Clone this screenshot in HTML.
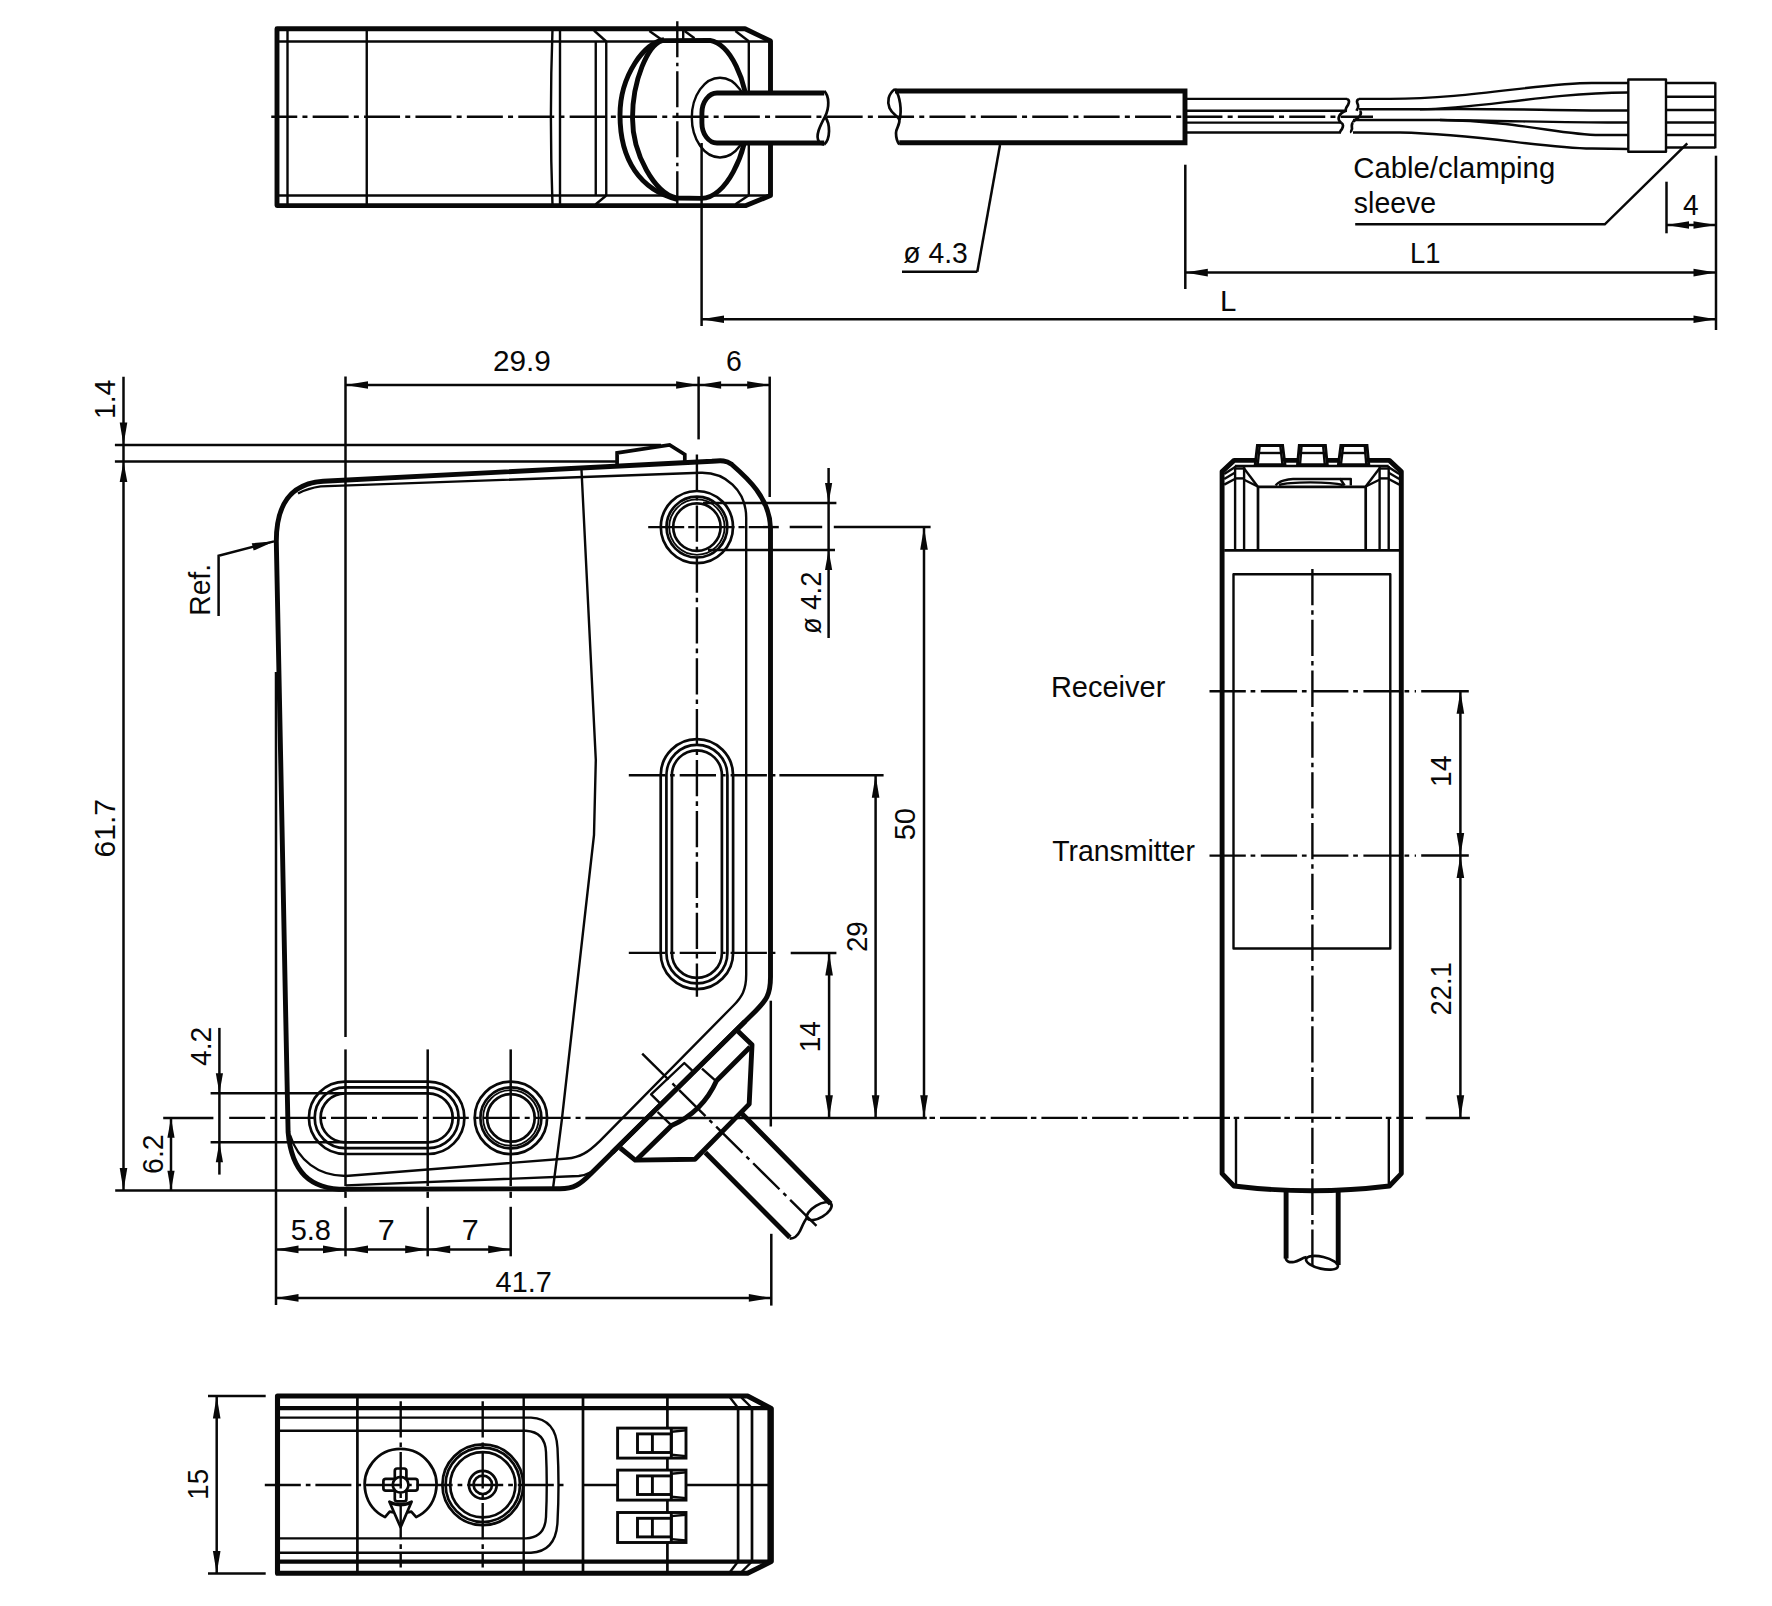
<!DOCTYPE html>
<html><head><meta charset="utf-8"><title>Dimensional drawing</title>
<style>
html,body{margin:0;padding:0;background:#fff;}
body{width:1772px;height:1606px;overflow:hidden;}
svg{display:block;}
svg text{font-family:"Liberation Sans",sans-serif;fill:#080808;}
.k{fill:none;stroke:#080808;stroke-width:4.9;stroke-linejoin:round;stroke-linecap:butt;}
.kc{fill:none;stroke:#080808;stroke-width:4.9;stroke-linejoin:miter;}
.k3{fill:none;stroke:#080808;stroke-width:3.7;stroke-linejoin:miter;}
.k2{fill:none;stroke:#080808;stroke-width:4.3;}
.kb{fill:none;stroke:#080808;stroke-width:5.1;stroke-linejoin:round;}
.m2{fill:none;stroke:#080808;stroke-width:2.9;stroke-linejoin:miter;}
.m{fill:none;stroke:#080808;stroke-width:2.7;stroke-linejoin:round;}
.t{fill:none;stroke:#080808;stroke-width:2.4;stroke-linejoin:round;}
.t1{fill:none;stroke:#080808;stroke-width:1.8;}
.d{fill:none;stroke:#080808;stroke-width:2.5;}
.c{fill:none;stroke:#080808;stroke-width:2.4;stroke-dasharray:36 5 5 5;}
.a{fill:#080808;stroke:none;}
.w{fill:#fff;stroke:none;}
</style></head><body>
<svg width="1772" height="1606" viewBox="0 0 1772 1606">
<rect class="w" x="0" y="0" width="1772" height="1606"/>
<g id="topview">
<path class="k" d="M277 28.8L745 28.8L770.5 41L770.5 195.5L746 205.6L277 205.6Z" />
<path class="t" d="M277 41.5L770 41.5" />
<path class="t" d="M277 195.5L770 195.5" />
<path class="t" d="M287.5 29L287.5 205.6" />
<path class="t" d="M366.75 29L366.75 205.6" />
<path class="t" d="M552.5 29Q549.3 117 552.5 205.6" />
<path class="t" d="M560 29L560 205.6" />
<path class="t" d="M595.75 41.5L595.75 195.5" />
<path class="t" d="M606.25 41.5L606.25 195.5" />
<path class="t" d="M594 30.5L606.25 41.5" />
<path class="t" d="M606.25 195.5L595.5 204.5" />
<path class="t" d="M748.8 41.3L748.8 195.3" />
<path class="t" d="M735.4 31L748.8 41.3" />
<path class="t" d="M748.8 195.3L735.4 204.2" />
<path class="t" d="M649.4 31L660.7 39" />
<path class="t" d="M684.6 31L694.5 38.3" />
<path class="t" d="M683.2 31L683.2 39" />
<path class="k" d="M664 39.6C645 42 620 75 620 115C620 160 640 190 678 199.6" />
<path class="k" style="fill:#fff" d="M662 40.6L710 40.4C730 44 747.4 80 747.4 116C747.4 155 725 198.4 701.6 198.4L676.2 198C655 193 632.5 155 632.5 118C632.5 80 648 45 662 40.6Z"/>
<clipPath id="cpE"><path d="M662 40.6L710 40.4C730 44 747.4 80 747.4 116C747.4 155 725 198.4 701.6 198.4L676.2 198C655 193 632.5 155 632.5 118C632.5 80 648 45 662 40.6Z"/></clipPath>
<ellipse class="t" cx="720" cy="117.6" rx="28.2" ry="39.9" clip-path="url(#cpE)"/>
<path class="kc" style="fill:#fff" d="M824.2 93L717 93A15.1 20 0 0 0 701.9 113L701.9 123A15.1 20 0 0 0 717 143L824.2 143"/>
<path class="m" d="M824.2 91C829.5 96 829.5 108 825 116.6C820 126 815 136 819 141.5C821 144 823 144.5 824.2 144.5" />
<path class="m" d="M825 116.6C830.5 124 830.5 139 824.2 144.5" />
<path class="kc" d="M895 91L1185 91L1185 142.8L899.3 142.8"/>
<path class="m" d="M895 89C888 94 887 102 889.5 108C892 114 898 116 899.3 119.7C900.5 124 896 128 896 133C896 138 897.5 142 899.3 144.5" />
<path class="m" d="M895 89C900 96 902 110 899.6 119.7" />
<path class="t" d="M1185 98.9L1347 98.9" />
<path class="t" d="M1185 110.8L1347 110.8" />
<path class="t" d="M1185 122.6L1341 122.6" />
<path class="t" d="M1185 132.5L1341 132.5" />
<path class="m" d="M1347 98.9C1350 100 1349 103 1348 105C1346 108 1345 109 1346 110.8" />
<path class="m" d="M1341 122.6C1344 124 1343 127 1342 129C1340 131 1340 132 1340 132.5" />
<path class="m" d="M1346 110.8C1343 112 1340 114 1339 116.5C1338 119 1339 121 1341 122.6" />
<path class="m" d="M1359 98.9C1356 100 1357 103 1358 105C1359 108 1357 109.5 1356.5 110.8" />
<path class="m" d="M1353 122.6C1351 124 1352 127 1352 129C1351 131 1351 132 1351.5 132.5" />
<path class="m" d="M1360 110.8C1362 113 1360 116 1358 118C1355 120 1353 121 1353 122.6" />
<path class="t" d="M1359 98.9L1390 98.9C1470 98.9 1540 83 1592 83L1628 83" />
<path class="t" d="M1359 109.3L1420 109.3C1480 109 1540 93.5 1628 92.5" />
<path class="t" d="M1420 109.3C1500 108 1560 111 1628 110.5" />
<path class="t" d="M1353 120L1440 120C1520 121 1580 123 1628 122.5" />
<path class="t" d="M1440 120C1520 121 1560 135 1600 135L1628 135" />
<path class="t" d="M1353 132.5L1400 132.5C1480 134 1540 148 1592 148.5L1628 149" />
<rect class="t" style="fill:#fff" x="1628.3" y="79.5" width="37.7" height="72.3"/>
<path class="t" d="M1666 83L1715.3 83" />
<path class="t" d="M1666 96.75L1715.3 96.75" />
<path class="t" d="M1666 110L1715.3 110" />
<path class="t" d="M1666 122.5L1715.3 122.5" />
<path class="t" d="M1666 135L1715.3 135" />
<path class="t" d="M1666 147.5L1715.3 147.5" />
<path class="t" d="M1715.3 82.3L1715.3 148.3" />
<path class="c" d="M271.25 116.75L1373 116.75" style="stroke-dasharray:36 5.2 5 5.2" stroke-dashoffset="10"/>
<path class="c" d="M677.3 21.3L677.3 210.4" style="stroke-dasharray:36 5.5 3.5 5"/>
<path class="d" d="M902 271.7L977.3 271.7" />
<path class="d" d="M977.3 271.7L1000 145" />
<text transform="translate(903.29 262.70) rotate(0) scale(0.963 1)" style="font-size:29.4px">ø 4.3</text>
<text transform="translate(1353.23 178.20) rotate(0) scale(0.997 1)" style="font-size:29.4px">Cable/clamping</text>
<text transform="translate(1353.85 213.20) rotate(0) scale(0.968 1)" style="font-size:29.4px">sleeve</text>
<path class="d" d="M1355.2 224.3L1604.8 224.3L1687.3 143.3" />
<path class="d" d="M1666.5 181.7L1666.5 233.3" />
<path class="d" d="M1716 155.7L1716 330" />
<path class="d" d="M1666.5 225L1716 225" />
<path class="a" d="M1666.50 225.00L1689.00 221.20L1689.00 228.80Z"/>
<path class="a" d="M1716.00 225.00L1693.50 228.80L1693.50 221.20Z"/>
<text transform="translate(1683.04 214.80) rotate(0) scale(0.956 1)" style="font-size:29.4px">4</text>
<path class="d" d="M1185.3 164.7L1185.3 289" />
<path class="d" d="M1185.3 272.6L1716 272.6" />
<path class="a" d="M1185.30 272.60L1207.80 268.80L1207.80 276.40Z"/>
<path class="a" d="M1716.00 272.60L1693.50 276.40L1693.50 268.80Z"/>
<text transform="translate(1410.00 262.90) rotate(0) scale(0.930 1)" style="font-size:29.4px">L1</text>
<path class="d" d="M701.6 143L701.6 326" />
<path class="d" d="M701.5 319.3L1716 319.3" />
<path class="a" d="M701.50 319.30L724.00 315.50L724.00 323.10Z"/>
<path class="a" d="M1716.00 319.30L1693.50 323.10L1693.50 315.50Z"/>
<text transform="translate(1219.94 310.60) rotate(0) scale(1.001 1)" style="font-size:29.4px">L</text>
</g>
<g id="front">
<path class="k" d="M276.3 541.4C276.3 505 290 483.5 323.2 481.2L712 461.3C722 460.2 726.5 460.6 731.1 463.9C745 476 770 497 770.5 528.3L770.5 977C770.5 995 766 1000.5 755.4 1011.2L590.8 1173.7C580 1184.5 574 1188.7 560 1188.7L345.6 1189.3C310 1189.3 291.5 1172 288.1 1132L285.4 1000L280.7 760Z" />
<path class="t" d="M298 493.5Q308 488.2 320.7 486.4L700.4 472.8C725 472 746.2 490 746.2 517.8L746.2 974.6C746.2 990 742 997 733 1006L600 1140.8C588 1152.5 580 1157.5 567 1158.5L345.6 1176C318 1176 298 1160 290 1135" />
<path class="t" d="M345.6 1185.4L578.8 1176C588 1175 596 1170 603 1163" />
<path class="t" d="M581.5 470L595.8 760L594 835L561.8 1120L553.2 1187" />
<path class="k3" d="M617.1 464.5L617.1 452.8L669.6 444.9L684.8 454.5L684.8 462.5" />
<circle class="m" cx="696.9" cy="527.1" r="36.1"/>
<circle class="m" cx="696.9" cy="527.1" r="30.4"/>
<circle class="t1" cx="696.9" cy="527.1" r="27.7"/>
<circle class="m" cx="696.9" cy="527.1" r="23.7"/>
<path class="m" d="M660.6999999999999 775.3A36.2 36.2 0 0 1 733.1 775.3L733.1 952.9A36.2 36.2 0 0 1 660.6999999999999 952.9Z" />
<path class="m" d="M666.4 775.3A30.5 30.5 0 0 1 727.4 775.3L727.4 952.9A30.5 30.5 0 0 1 666.4 952.9Z" />
<path class="m" d="M671.9 775.3A25 25 0 0 1 721.9 775.3L721.9 952.9A25 25 0 0 1 671.9 952.9Z" />
<path class="m" d="M345.1 1154.0A36.2 36.2 0 0 1 345.1 1081.6L428.2 1081.6A36.2 36.2 0 0 1 428.2 1154.0Z" />
<path class="m" d="M345.1 1148.2A30.4 30.4 0 0 1 345.1 1087.3999999999999L428.2 1087.3999999999999A30.4 30.4 0 0 1 428.2 1148.2Z" />
<path class="m" d="M345.1 1142.3A24.5 24.5 0 0 1 345.1 1093.3L428.2 1093.3A24.5 24.5 0 0 1 428.2 1142.3Z" />
<circle class="m" cx="510.9" cy="1117.9" r="36.2"/>
<circle class="m" cx="510.9" cy="1117.9" r="30.5"/>
<circle class="t1" cx="510.9" cy="1117.9" r="27.8"/>
<circle class="m" cx="510.9" cy="1117.9" r="23.8"/>
<path class="w" d="M740.8 1112.5L830.7 1203.7L789.9 1237.5L705.3 1152.6Z"/>
<path class="k" style="stroke-linecap:butt" d="M740.8 1112.5L830.7 1203.7M789.9 1237.5L705.3 1152.6"/>
<path class="m" d="M807.5 1217C803.8 1221.5 802 1227 800 1231C797.5 1236 793.5 1238.7 789.6 1238.6" />
<ellipse class="m" cx="819.2" cy="1211.2" rx="14" ry="6.3" transform="rotate(-31 819.2 1211.2)"/>
<path class="w" d="M738 1031.2L752 1044.8L749.2 1104.1L695 1159.2L635.2 1160.1L620.3 1148Z"/>
<path class="k" d="M738 1031.2L752 1044.8L749.2 1104.1L695 1159.2L635.2 1160.1L620.3 1148" />
<path class="k" d="M750.1 1047.1L716.5 1080.7Q702.6 1111.7 671.6 1125.5L637.1 1159.2" />
<path class="t" d="M702 1068.6L715.5 1080.7" />
<path class="t" d="M657.6 1112L670.7 1124.6" />
<path class="t" d="M660.4 1103.6L651.1 1094.3L684.3 1063L693.1 1071.4" />
<path class="k" d="M745 1021.5L612 1152.8" />
<path class="c" d="M642.2 1053.6L820.2 1229.5" style="stroke-dasharray:37 5.5 4 5.5"/>
</g>
<g id="frontdims">
<path class="d" d="M114.9 444.9L661 444.9" />
<path class="d" d="M114.9 461.4L616.7 461.4" />
<path class="d" d="M123.5 376.8L123.5 1190.5" />
<path class="a" d="M123.50 444.90L119.70 422.40L127.30 422.40Z"/>
<path class="a" d="M123.50 461.40L127.30 481.90L119.70 481.90Z"/>
<path class="a" d="M123.50 1190.50L119.70 1168.00L127.30 1168.00Z"/>
<text transform="translate(114.90 419.02) rotate(-90) scale(0.963 1)" style="font-size:29.4px">1.4</text>
<text transform="translate(115.10 857.50) rotate(-90) scale(1.021 1)" style="font-size:29.4px">61.7</text>
<path class="d" d="M115.2 1190.4L345.6 1190.4" />
<path class="d" d="M345.5 376.6L345.5 1037" />
<path class="d" d="M698.6 376.6L698.6 439.4" />
<path class="d" d="M769.7 376.6L769.7 497" />
<path class="d" d="M345.5 385L769.7 385" />
<path class="a" d="M345.50 385.00L368.00 381.20L368.00 388.80Z"/>
<path class="a" d="M698.60 385.00L676.10 388.80L676.10 381.20Z"/>
<path class="a" d="M698.60 385.00L721.10 381.20L721.10 388.80Z"/>
<path class="a" d="M769.70 385.00L747.20 388.80L747.20 381.20Z"/>
<text transform="translate(492.91 370.70) rotate(0) scale(1.011 1)" style="font-size:29.4px">29.9</text>
<text transform="translate(726.08 370.70) rotate(0) scale(0.966 1)" style="font-size:29.4px">6</text>
<path class="d" d="M218.6 615.9L218.6 555.7L274 541.4" />
<path class="a" d="M274.50 541.30L253.67 550.61L251.77 543.25Z"/>
<text transform="translate(209.60 615.76) rotate(-90) scale(0.961 1)" style="font-size:29.4px">Ref.</text>
<path class="d" d="M276 672L276 1305" />
<path class="c" d="M648.2 527.1L778.8 527.1" style="stroke-dasharray:36 4 6.3 4"/>
<path class="d" d="M789.7 527.1L822.2 527.1" />
<path class="d" d="M833.8 527.1L930.6 527.1" />
<path class="c" d="M696.9 454.6L696.9 996.8" style="stroke-dasharray:36.3 5 4.6 5"/>
<path class="d" d="M703 502.9L836.4 502.9" />
<path class="d" d="M708 550L835 550" />
<path class="d" d="M828.6 468L828.6 638" />
<path class="a" d="M828.60 502.90L825.00 482.90L832.20 482.90Z"/>
<path class="a" d="M828.60 550.00L832.20 570.00L825.00 570.00Z"/>
<text transform="translate(821.10 633.93) rotate(-90) scale(0.930 1)" style="font-size:29.4px">ø 4.2</text>
<path class="c" d="M628.8 775.3L775.4 775.3" style="stroke-dasharray:36.3 5 4.6 5"/>
<path class="d" d="M779.4 775.3L883.6 775.3" />
<path class="c" d="M628.8 952.9L775.4 952.9" style="stroke-dasharray:36.3 5 4.6 5"/>
<path class="d" d="M790.7 952.9L836.4 952.9" />
<path class="d" d="M770.8 1000.7L770.8 1126.5" />
<path class="d" d="M771.3 1233.8L771.3 1305.6" />
<path class="d" d="M829.1 952.9L829.1 1117.8" />
<path class="a" d="M829.10 952.90L832.90 975.40L825.30 975.40Z"/>
<path class="a" d="M829.10 1117.80L825.30 1095.30L832.90 1095.30Z"/>
<path class="d" d="M875.6 775.3L875.6 1117.8" />
<path class="a" d="M875.60 775.30L879.40 797.80L871.80 797.80Z"/>
<path class="a" d="M875.60 1117.80L871.80 1095.30L879.40 1095.30Z"/>
<path class="d" d="M924 527.2L924 1117.8" />
<path class="a" d="M924.00 527.20L927.80 549.70L920.20 549.70Z"/>
<path class="a" d="M924.00 1117.80L920.20 1095.30L927.80 1095.30Z"/>
<text transform="translate(820.20 1052.29) rotate(-90) scale(0.948 1)" style="font-size:29.4px">14</text>
<text transform="translate(866.90 951.98) rotate(-90) scale(0.938 1)" style="font-size:29.4px">29</text>
<text transform="translate(915.40 840.37) rotate(-90) scale(0.992 1)" style="font-size:29.4px">50</text>
<path class="d" d="M163.2 1117.9L213.4 1117.9" />
<path class="c" d="M229.2 1117.9L581 1117.9" style="stroke-dasharray:36 5 5 4.9"/>
<path class="d" d="M585.4 1117.9L926.8 1117.9" />
<path class="c" d="M929.5 1117.9L1413 1117.9" style="stroke-dasharray:5.5 5 36.5 3.7"/>
<path class="d" d="M1425.7 1117.9L1469.9 1117.9" />
<path class="d" d="M210.6 1093.3L344 1093.3" />
<path class="d" d="M210.6 1142.3L344 1142.3" />
<path class="d" d="M219.4 1027.9L219.4 1174.6" />
<path class="a" d="M219.40 1093.30L215.80 1073.30L223.00 1073.30Z"/>
<path class="a" d="M219.40 1142.30L223.00 1162.30L215.80 1162.30Z"/>
<text transform="translate(211.30 1065.96) rotate(-90) scale(0.956 1)" style="font-size:29.4px">4.2</text>
<path class="d" d="M171 1117.8L171 1190.7" />
<path class="a" d="M171.00 1117.80L174.60 1137.80L167.40 1137.80Z"/>
<path class="a" d="M171.00 1190.70L167.40 1170.70L174.60 1170.70Z"/>
<text transform="translate(162.50 1173.93) rotate(-90) scale(0.970 1)" style="font-size:29.4px">6.2</text>
<path class="d" d="M345.5 1049.4L345.5 1186" />
<path class="d" d="M345.5 1191.6L345.5 1197.9" />
<path class="d" d="M345.5 1206.8L345.5 1256.3" />
<path class="d" d="M427.7 1049.4L427.7 1186" />
<path class="d" d="M427.7 1191.6L427.7 1197.9" />
<path class="d" d="M427.7 1206.8L427.7 1256.3" />
<path class="d" d="M510.7 1049.4L510.7 1186" />
<path class="d" d="M510.7 1191.6L510.7 1197.9" />
<path class="d" d="M510.7 1206.8L510.7 1256.3" />
<path class="d" d="M276 1249.4L510.7 1249.4" />
<path class="a" d="M276.00 1249.40L298.50 1245.60L298.50 1253.20Z"/>
<path class="a" d="M345.50 1249.40L323.00 1253.20L323.00 1245.60Z"/>
<path class="a" d="M345.50 1249.40L368.00 1245.60L368.00 1253.20Z"/>
<path class="a" d="M427.70 1249.40L405.20 1253.20L405.20 1245.60Z"/>
<path class="a" d="M427.70 1249.40L450.20 1245.60L450.20 1253.20Z"/>
<path class="a" d="M510.70 1249.40L488.20 1253.20L488.20 1245.60Z"/>
<text transform="translate(290.64 1239.60) rotate(0) scale(0.987 1)" style="font-size:29.4px">5.8</text>
<text transform="translate(377.87 1239.60) rotate(0) scale(1.039 1)" style="font-size:29.4px">7</text>
<text transform="translate(461.67 1239.60) rotate(0) scale(1.039 1)" style="font-size:29.4px">7</text>
<path class="d" d="M276 1297.9L771.3 1297.9" />
<path class="a" d="M276.00 1297.90L298.50 1294.10L298.50 1301.70Z"/>
<path class="a" d="M771.30 1297.90L748.80 1301.70L748.80 1294.10Z"/>
<text transform="translate(495.62 1291.70) rotate(0) scale(0.981 1)" style="font-size:29.4px">41.7</text>
</g>
<g id="bottom">
<path class="kb" d="M277.5 1396L747.6 1396L771.3 1408.4L771.3 1561.5L747.6 1573.3L277.5 1573.3Z" />
<path class="k2" d="M277.3 1408.1L771.3 1408.1" />
<path class="k2" d="M277.3 1561.6L771.3 1561.6" />
<path class="t" d="M277.3 1417.6L531 1417.6Q556 1419 557.5 1448Q559.5 1485 557.5 1522Q556 1551.5 531 1552.7L277.3 1552.7" />
<path class="t" d="M277.5 1430.8L526 1430.8Q545 1432 546 1452Q547.5 1485 546 1517Q545 1537.5 526 1538.4L277.5 1538.4" />
<path class="m" d="M357.4 1396L357.4 1573.5" />
<path class="t" d="M523.7 1396L523.7 1573.5" />
<path class="m" d="M583 1396L583 1573.5" />
<path class="m" d="M667.4 1396L667.4 1573.5" />
<path class="m" d="M738.1 1408.2L738.1 1561.5" />
<path class="m" d="M752 1408.2L752 1561.5" />
<path class="t" d="M768.6 1408.2L768.6 1561.5" />
<path class="t" d="M730 1397.6L738.1 1408" />
<path class="t" d="M741.5 1397.6L752 1408" />
<path class="t" d="M730 1572L738.1 1561.5" />
<path class="t" d="M741.5 1572L752 1561.5" />
<path class="t" d="M752 1399L768.6 1408.2" />
<path class="t" d="M752 1571L768.6 1561.5" />
<path class="c" d="M264.8 1485L564.3 1485" style="stroke-dasharray:36 5 4.7 4.9"/>
<path class="t" d="M583 1485L617.6 1485" />
<path class="t" d="M686 1485L768.6 1485" />
<path class="c" d="M400.7 1401.2L400.7 1567.5" style="stroke-dasharray:36.3 5 4.6 5"/>
<path class="c" d="M482.7 1401.2L482.7 1567.5" style="stroke-dasharray:36.3 5 4.6 5"/>
<path class="m" d="M407.6 1512.3L411.3 1511.7L416.2 1517.1A35.9 35.9 0 1 0 385.0 1517.1L389.70000000000005 1511.7L393.6 1512.3" />
<path class="m" d="M389.40000000000003 1501.7Q400.6 1507.3 411.6 1501.7L400.6 1527.3Z" />
<path class="m" d="M391.6 1503.3999999999999Q400.6 1506.8 409.6 1503.3999999999999" />
<path class="m" d="M397.2 1468.5L404.00000000000006 1468.5Q406.40000000000003 1468.5 406.40000000000003 1470.9L406.40000000000003 1478.8999999999999L415.20000000000005 1478.8999999999999Q417.6 1478.8999999999999 417.6 1481.3L417.6 1488.3Q417.6 1490.7 415.20000000000005 1490.7L406.40000000000003 1490.7L406.40000000000003 1498.9999999999998Q406.40000000000003 1501.3999999999999 404.00000000000006 1501.3999999999999L397.2 1501.3999999999999Q394.8 1501.3999999999999 394.8 1498.9999999999998L394.8 1490.7L385.8 1490.7Q383.40000000000003 1490.7 383.40000000000003 1488.3L383.40000000000003 1481.3Q383.40000000000003 1478.8999999999999 385.8 1478.8999999999999L394.8 1478.8999999999999L394.8 1470.9Q394.8 1468.5 397.2 1468.5Z" />
<circle class="m" cx="400.6" cy="1484.8" r="7.9"/>
<circle class="m" cx="482.8" cy="1484.8" r="40.4"/>
<circle class="m" cx="482.8" cy="1484.8" r="37.2"/>
<circle class="m" cx="482.8" cy="1484.8" r="32.6"/>
<circle class="m" cx="482.8" cy="1484.8" r="13.9"/>
<circle class="m" cx="482.8" cy="1484.8" r="9.2"/>
<rect class="m2" style="fill:#fff" x="617.6" y="1428.1" width="68.4" height="30"/>
<rect class="m2" x="637.5" y="1433.8999999999999" width="33.8" height="18.6"/>
<path class="m2" d="M652.4 1433.8999999999999L652.4 1452.5" />
<path class="m2" d="M671.3 1428.1L671.3 1458.1" />
<path class="t" d="M671.3 1431.6999999999998L686 1430.3999999999999" />
<path class="t" d="M671.3 1454.6999999999998L686 1456.1" />
<rect class="m2" style="fill:#fff" x="617.6" y="1470.1" width="68.4" height="30"/>
<rect class="m2" x="637.5" y="1475.8999999999999" width="33.8" height="18.6"/>
<path class="m2" d="M652.4 1475.8999999999999L652.4 1494.5" />
<path class="m2" d="M671.3 1470.1L671.3 1500.1" />
<path class="t" d="M671.3 1473.6999999999998L686 1472.3999999999999" />
<path class="t" d="M671.3 1496.6999999999998L686 1498.1" />
<rect class="m2" style="fill:#fff" x="617.6" y="1512.5" width="68.4" height="30"/>
<rect class="m2" x="637.5" y="1518.3" width="33.8" height="18.6"/>
<path class="m2" d="M652.4 1518.3L652.4 1536.9" />
<path class="m2" d="M671.3 1512.5L671.3 1542.5" />
<path class="t" d="M671.3 1516.1L686 1514.8" />
<path class="t" d="M671.3 1539.1L686 1540.5" />
<path class="d" d="M208 1396L265.7 1396" />
<path class="d" d="M208 1573.5L265.7 1573.5" />
<path class="d" d="M216.7 1396L216.7 1573.5" />
<path class="a" d="M216.70 1396.00L220.50 1418.50L212.90 1418.50Z"/>
<path class="a" d="M216.70 1573.50L212.90 1551.00L220.50 1551.00Z"/>
<text transform="translate(208.30 1499.67) rotate(-90) scale(0.937 1)" style="font-size:29.4px">15</text>
</g>
<g id="right">
<path class="k" d="M1222.1 1173.6L1222.1 471.6L1234.1 460.4L1389.3 460.4L1401.3 471.6L1401.3 1173.6L1389.4 1186Q1312 1195.5 1234 1186Z" />
<path class="m2" style="fill:#fff" d="M1255.2 464.8L1257.4 445.5L1282.6 445.5L1285 464.8Z"/>
<path class="t" d="M1258.2 453L1281.8 453" />
<path class="t" d="M1259.6000000000001 446.5L1257.8 464" />
<path class="t" d="M1280.3999999999999 446.5L1282.4 464" />
<path class="m2" style="fill:#fff" d="M1297.5 464.8L1299.3 445.5L1325.4 445.5L1327.3 464.8Z"/>
<path class="t" d="M1300.1 453L1324.6000000000001 453" />
<path class="t" d="M1301.5 446.5L1300.1 464" />
<path class="t" d="M1323.2 446.5L1324.7 464" />
<path class="m2" style="fill:#fff" d="M1338.4 464.8L1340.9 445.5L1367 445.5L1368.8 464.8Z"/>
<path class="t" d="M1341.7 453L1366.2 453" />
<path class="t" d="M1343.1000000000001 446.5L1341.0 464" />
<path class="t" d="M1364.8 446.5L1366.2 464" />
<path class="m" d="M1234.8 466L1388.7 466" />
<path class="m" d="M1258 550.4L1258 486.9L1365.7 486.9L1365.7 550.4" />
<path class="t" d="M1244.1 468.5L1257.7 486.5" />
<path class="t" d="M1379.4 468.5L1365.7 486.5" />
<path class="t" d="M1244.1 479.7L1257.7 486.5" />
<path class="t" d="M1379.4 479.7L1365.7 486.5" />
<path class="t" d="M1235.1 468.5L1244.1 468.5" />
<path class="t" d="M1379.6 468.5L1388.7 468.5" />
<path class="t" d="M1235.1 478.4L1244.1 478.4" />
<path class="t" d="M1379.6 478.4L1388.7 478.4" />
<path class="t" d="M1235.1 466L1235.1 550.4" />
<path class="t" d="M1244.1 466L1244.1 550.4" />
<path class="t" d="M1379.6 466L1379.6 550.4" />
<path class="t" d="M1388.7 466L1388.7 550.4" />
<path class="t" d="M1224.2 474L1234.8 467.2" />
<path class="t" d="M1399.3 474L1388.7 467.2" />
<path class="t" d="M1224.2 479L1234.8 472.8" />
<path class="t" d="M1399.3 479L1388.7 472.8" />
<path class="t" d="M1224.2 484.6L1234.8 479" />
<path class="t" d="M1399.3 484.6L1388.7 479" />
<path class="m" d="M1224.2 550.4L1399.3 550.4" />
<path class="t" d="M1275.7 485.5C1278 481 1288 479 1293 479L1340.3 479L1344.6 485.5" />
<path class="t" d="M1340.3 479L1350.8 479L1350.8 485.5" />
<path class="t" d="M1279 485C1290 481.5 1330 481.5 1343 485" />
<rect class="t" x="1233.5" y="574.3" width="156.8" height="374.2"/>
<path class="t" d="M1236 1117.8L1236 1184.6" />
<path class="t" d="M1388.8 1117.8L1388.8 1184.6" />
<path class="c" d="M1312.4 569L1312.4 1265.2" style="stroke-dasharray:36.3 5 4.5 5"/>
<path class="c" d="M1209.5 691.3L1416 691.3" style="stroke-dasharray:36.3 4.8 4.7 5.5"/>
<path class="d" d="M1421.2 691.3L1468.8 691.3" />
<path class="c" d="M1209.5 855.6L1416 855.6" style="stroke-dasharray:36.3 4.8 4.7 5.5"/>
<path class="d" d="M1421.2 855.6L1468.8 855.6" />
<path class="k" d="M1286.1 1191.4L1286.1 1258.4M1338.2 1191.4L1338.2 1265"/>
<path class="m" d="M1285.6 1257.5C1286 1262 1290 1262.6 1294 1262C1299 1261.3 1302 1257.6 1306.5 1257.2" />
<ellipse class="m" cx="1322" cy="1262.8" rx="16.3" ry="6" transform="rotate(13 1322 1262.8)"/>
<text transform="translate(1050.88 696.80) rotate(0) scale(0.987 1)" style="font-size:29.4px">Receiver</text>
<text transform="translate(1052.13 861.40) rotate(0) scale(0.968 1)" style="font-size:29.4px">Transmitter</text>
<path class="d" d="M1460.4 691.3L1460.4 1117.8" />
<path class="a" d="M1460.40 691.30L1464.20 713.80L1456.60 713.80Z"/>
<path class="a" d="M1460.40 855.60L1456.60 833.10L1464.20 833.10Z"/>
<path class="a" d="M1460.40 855.60L1464.20 878.10L1456.60 878.10Z"/>
<path class="a" d="M1460.40 1117.80L1456.60 1095.30L1464.20 1095.30Z"/>
<text transform="translate(1451.40 787.02) rotate(-90) scale(0.961 1)" style="font-size:29.4px">14</text>
<text transform="translate(1451.40 1015.57) rotate(-90) scale(0.932 1)" style="font-size:29.4px">22.1</text>
</g>
</svg>
</body></html>
